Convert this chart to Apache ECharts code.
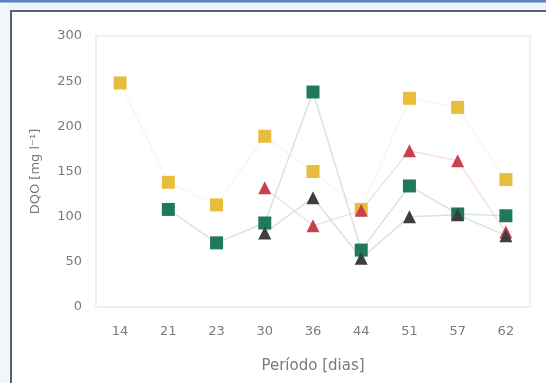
<!DOCTYPE html>
<html>
<head>
<meta charset="utf-8">
<script src="https://cdn.jsdelivr.net/npm/echarts@6/dist/echarts.min.js"></script>
<style>
  html, body { margin: 0; padding: 0; background: #ffffff; }
  #chart { width: 546px; height: 383px; }
</style>
</head>
<body>
<div id="chart"></div>
<script>
// Sampling days (x categories)
const periodos = ['14', '21', '23', '30', '36', '44', '51', '57', '62'];

// DQO values per series, mg/l (null = not measured)
const serieAmarela = [248, 138, 113, 189, 150, 108, 231, 221, 141];
const serieVerde   = [null, 108, 71, 93, 238, 63, 134, 103, 101];
const serieVermelha = [null, null, null, 132, 90, 107, 173, 162, 83];
const seriePreta   = [null, null, null, 82, 121, 54, 100, 102, 79];

const yTicks = [0, 50, 100, 150, 200, 250, 300];

const textColor = '#7a7a7a';
const fontFamily = 'DejaVu Sans';

function serie(nome, dados, cor, corLinha, simbolo, tamanho) {
  return {
    name: nome,
    type: 'line',
    data: dados,
    symbol: simbolo,
    symbolSize: tamanho,
    connectNulls: false,
    itemStyle: { color: cor },
    lineStyle: { color: corLinha, width: 1.5 },
    emphasis: { disabled: true },
    z: 3
  };
}

const chart = echarts.init(document.getElementById('chart'), null, { renderer: 'canvas' });

chart.setOption({
  animation: false,
  backgroundColor: '#ffffff',
  graphic: [
    // window frame around the figure
    { type: 'rect', shape: { x: 0, y: 0, width: 546, height: 10 }, style: { fill: '#eef4fb' }, silent: true },
    { type: 'rect', shape: { x: 0, y: 0, width: 10, height: 383 }, style: { fill: '#f1f6fb' }, silent: true },
    { type: 'rect', shape: { x: 0, y: 0, width: 546, height: 2.5 }, style: { fill: '#5b80c4' }, silent: true },
    { type: 'rect', shape: { x: 10, y: 10, width: 536, height: 2 }, style: { fill: '#56616d' }, silent: true },
    { type: 'rect', shape: { x: 10, y: 10, width: 2, height: 373 }, style: { fill: '#56616d' }, silent: true }
  ],
  grid: {
    left: 96, right: 16, top: 36, bottom: 76,
    show: true,
    borderColor: '#ececec',
    borderWidth: 1.5,
    backgroundColor: 'transparent'
  },
  xAxis: {
    type: 'category',
    data: periodos,
    boundaryGap: true,
    name: 'Período [dias]',
    nameLocation: 'middle',
    nameGap: 52,
    nameTextStyle: { color: textColor, fontSize: 15, fontFamily: fontFamily },
    axisLine: { show: false },
    axisTick: { show: false },
    axisLabel: { color: textColor, fontSize: 13, fontFamily: fontFamily, margin: 18 },
    splitLine: { show: false }
  },
  yAxis: {
    type: 'value',
    min: yTicks[0],
    max: yTicks[yTicks.length - 1],
    interval: 50,
    name: 'DQO [mg l⁻¹]',
    nameLocation: 'middle',
    nameGap: 54,
    nameTextStyle: { color: textColor, fontSize: 13, fontFamily: fontFamily },
    axisLine: { show: false },
    axisTick: { show: false },
    axisLabel: { color: textColor, fontSize: 13, fontFamily: fontFamily, margin: 14 },
    splitLine: { show: false }
  },
  series: [
    serie('Amarela', serieAmarela, '#e8bd3d', 'rgba(240,220,160,0.25)', 'rect', 13),
    serie('Verde', serieVerde, '#1f7a5c', 'rgba(170,195,185,0.45)', 'rect', 13),
    serie('Vermelha', serieVermelha, '#c9404f', 'rgba(240,185,190,0.45)', 'triangle', 13),
    serie('Preta', seriePreta, '#3d3d3d', 'rgba(185,185,185,0.45)', 'triangle', 13)
  ]
});
</script>
</body>
</html>
